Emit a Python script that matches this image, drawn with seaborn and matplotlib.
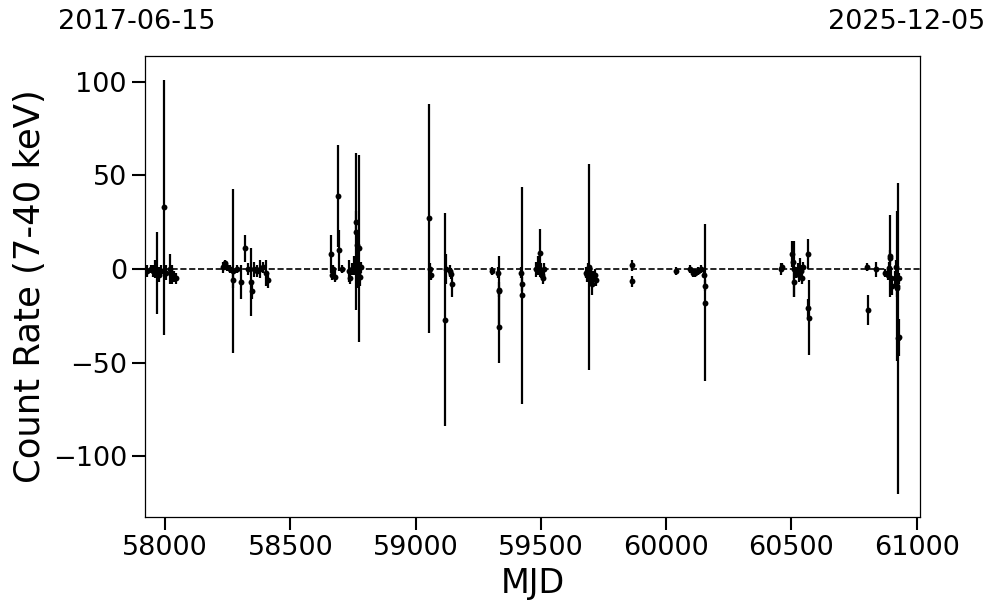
import matplotlib
matplotlib.use("Agg")
import matplotlib.pyplot as plt
import seaborn as sns
import pandas as pd
import numpy as np

# light curve points: MJD, count rate, 1-sigma error
mjd = [57927, 57943, 57951, 57959, 57967, 57975, 57983, 57995, 58003, 58019, 58027, 58035, 58043,
       58231, 58239, 58247, 58259, 58269, 58271, 58285, 58302, 58318, 58330, 58343, 58345, 58354,
       58366, 58378, 58389, 58401, 58409,
       58662, 58666, 58670, 58678, 58690, 58694, 58706, 58734, 58738, 58746, 58754, 58761, 58762,
       58766, 58770, 58775, 58778, 58782,
       59053, 59057, 59061, 59117, 59121, 59137, 59141, 59145,
       59305, 59329, 59331, 59333, 59334, 59421, 59423, 59425, 59481, 59489, 59497, 59501, 59505,
       59509, 59513,
       59680, 59684, 59688, 59692, 59696, 59700, 59704, 59708, 59716, 59720,
       59863, 59865, 60040, 60096, 60108, 60116, 60128, 60140, 60152, 60154, 60156,
       60459, 60461, 60503, 60507, 60509, 60511, 60519, 60527, 60531, 60535, 60539, 60543, 60547,
       60567, 60568, 60569,
       60803, 60805, 60839, 60875, 60887, 60891, 60893, 60895, 60899, 60903, 60915, 60919, 60921,
       60923, 60925, 60929, 60931]
rate = [-1, 0, -1, 0, -2, -3, -1, 33, -2, 0, -3, -4, -5,
        1, 3, 1, 0, -1, -6, 0, -7, 11, 0, -7, -12, 0,
        -1, 0, 1, -2, -6,
        8, -3, 0, -4, 39, 10, 0, -1, -5, 0, 2, 20, 25,
        13, -2, 11, -4, 1,
        27, 0, -3, -27, 0, -1, -2.5, -8,
        -1, -2, -11, -12, -31, -2, -8, -14, 0, 2, 8.5, -1, -3,
        -5, 0,
        -2, -3, -1, 1, -4, -2, -8, -5, -3, -6,
        2, -6.5, -1, 0, -2, -2, -1, 0, -3, -9, -18,
        0, 1, 8, 4, 0, -7, -2, 0, -3, 0, -1, -5, 1,
        8, -21, -26,
        1, -22, 0, -2, -3, 0.5, 7, 6, -5, -9, -5, 1, -9,
        -10, -37, -36.5, -5]
err = [3, 2, 3, 5, 22, 4, 3, 68, 4, 8, 5, 3, 3,
       3, 2, 2, 2, 44, 4, 2, 9, 7, 3, 18, 4, 4,
       3, 5, 3, 7, 4,
       10, 3, 2, 3, 27, 11, 2, 6, 3, 3, 5, 42, 6,
       8, 8, 50, 5, 3,
       61, 3, 3, 57, 8, 3, 3, 7,
       2, 3, 4, 19, 19, 3, 4, 58, 4, 5, 13, 4, 3,
       3, 3,
       3, 4, 4, 55, 4, 3, 6, 4, 3, 3,
       3, 3, 2, 2, 2, 2, 2, 2, 2, 3, 42,
       3, 2, 7, 5, 15, 8, 3, 3, 4, 6, 3, 3, 3,
       8, 5, 20,
       2, 8, 4, 2, 3, 3, 22, 4, 5, 5, 4, 4, 40,
       5, 83, 10, 3]

date_start = "2017-06-15"
date_end = "2025-12-05"
mjd_start, mjd_end = 57919, 61014

df = pd.DataFrame({"MJD": mjd, "rate": rate, "err": err})

sns.set_theme(style="ticks")
plt.rcParams['font.family'] = ['DejaVu Sans']
plt.rcParams.update({'text.color': 'black', 'axes.labelcolor': 'black',
                     'xtick.color': 'black', 'ytick.color': 'black'})

fig = plt.figure(figsize=(9.97, 6.13), dpi=100)
ax = fig.add_axes([0.1454, 0.1566, 0.7775, 0.752])

ax.errorbar(df["MJD"], df["rate"], yerr=df["err"], fmt='none', ecolor='black',
            elinewidth=1.6, capsize=0, zorder=2)
sns.scatterplot(data=df, x="MJD", y="rate", ax=ax, color='black', s=18,
                edgecolor='black', linewidth=0, zorder=3, legend=False)
ax.axhline(0, color='black', linestyle='--', linewidth=1.2, zorder=1)

ax.set_xlim(mjd_start, mjd_end)
ax.set_ylim(-132.5, 113.8)
ax.set_xticks([58000, 58500, 59000, 59500, 60000, 60500, 61000])
ax.set_yticks([-100, -50, 0, 50, 100])
ax.set_xlabel("MJD", fontsize=24)
ax.set_ylabel("Count Rate (7-40 keV)", fontsize=25.5)
ax.tick_params(axis='both', labelsize=19.5, length=9.5, width=1.5, direction='out',
               color='black', labelcolor='black')
for sp in ax.spines.values():
    sp.set_linewidth(0.9)
    sp.set_color('black')

fig.text(136.5 / 997, 1 - 22 / 613, date_start, fontsize=19.5, ha='center', va='center',
         color='black')
fig.text(907 / 997, 1 - 22 / 613, date_end, fontsize=19.5, ha='center', va='center',
         color='black')

fig.savefig("out.png", dpi=100, facecolor='white')
